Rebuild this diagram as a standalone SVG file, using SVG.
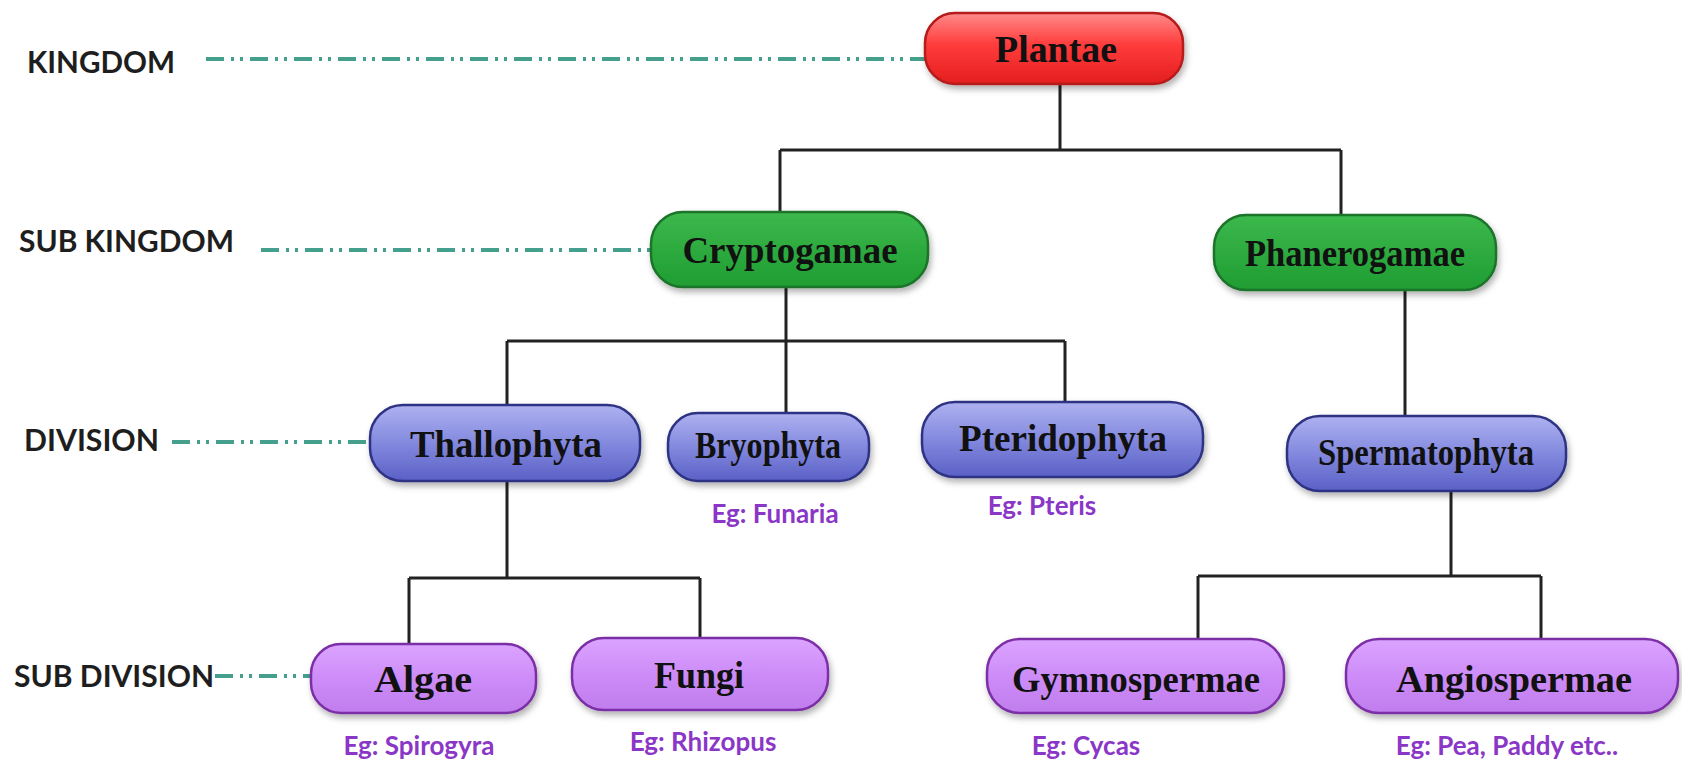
<svg xmlns="http://www.w3.org/2000/svg" width="1682" height="765" viewBox="0 0 1682 765">
<defs>
<linearGradient id="gRed" x1="0" y1="0" x2="0" y2="1"><stop offset="0" stop-color="#ff8a8a"/><stop offset="0.45" stop-color="#ff3b3b"/><stop offset="1" stop-color="#e41e1e"/></linearGradient>
<linearGradient id="gGreen" x1="0" y1="0" x2="0" y2="1"><stop offset="0" stop-color="#3cb84c"/><stop offset="1" stop-color="#1f9d32"/></linearGradient>
<linearGradient id="gBlue" x1="0" y1="0" x2="0" y2="1"><stop offset="0" stop-color="#aeb1f0"/><stop offset="0.5" stop-color="#8389de"/><stop offset="1" stop-color="#5a60c6"/></linearGradient>
<linearGradient id="gPurple" x1="0" y1="0" x2="0" y2="1"><stop offset="0" stop-color="#dba4ff"/><stop offset="0.5" stop-color="#cd8cf8"/><stop offset="1" stop-color="#c07ded"/></linearGradient>
<filter id="sh" x="-10%" y="-20%" width="130%" height="150%"><feDropShadow dx="2" dy="4" stdDeviation="3" flood-color="#000" flood-opacity="0.3"/></filter>
<style>
.lvl{font-family:Lato,"Open Sans","Liberation Sans",sans-serif;font-weight:700;font-size:30px;fill:#1e1e1e}
.nt{font-family:"Liberation Serif","DejaVu Serif",serif;font-weight:700;font-size:38px;fill:#111;text-anchor:middle}
.eg{font-family:Lato,"Open Sans","Liberation Sans",sans-serif;font-weight:700;font-size:26px;fill:#8a36c6;text-anchor:middle}
.dd{stroke:#44a08c;stroke-width:4;fill:none;stroke-dasharray:18 7 3 6 3 7}
.cn{stroke:#222;stroke-width:3;fill:none}
.red{fill:url(#gRed);stroke:#b51a1a;stroke-width:2.5;filter:url(#sh)}
.grn{fill:url(#gGreen);stroke:#1b7329;stroke-width:2.5;filter:url(#sh)}
.blu{fill:url(#gBlue);stroke:#2e3382;stroke-width:2.5;filter:url(#sh)}
.pur{fill:url(#gPurple);stroke:#7b2fa6;stroke-width:2.5;filter:url(#sh)}
</style>
</defs>
<rect width="1682" height="765" fill="#fff"/>

<g id="levels">
<text class="lvl" x="27" y="73" textLength="148" lengthAdjust="spacingAndGlyphs">KINGDOM</text>
<text class="lvl" x="19" y="252" textLength="215" lengthAdjust="spacingAndGlyphs">SUB KINGDOM</text>
<text class="lvl" x="24" y="451" textLength="135" lengthAdjust="spacingAndGlyphs">DIVISION</text>
<text class="lvl" x="14" y="687" textLength="200" lengthAdjust="spacingAndGlyphs">SUB DIVISION</text>
</g>

<g id="connectors">
<line class="dd" x1="206" y1="59" x2="925" y2="59"/>
<line class="dd" x1="261" y1="250" x2="651" y2="250"/>
<line class="dd" x1="172" y1="442" x2="370" y2="442"/>
<line class="dd" x1="215" y1="676" x2="311" y2="676"/>
<path class="cn" d="M1060 84 V150 M780 150 H1341 M780 150 V212 M1341 150 V215"/>
<path class="cn" d="M786 287 V341 M507 341 H1065 M507 341 V405 M786 341 V413 M1065 341 V402"/>
<path class="cn" d="M1405 290 V416"/>
<path class="cn" d="M507 481 V578 M409 578 H700 M409 578 V644 M700 578 V638"/>
<path class="cn" d="M1451 491 V576 M1198 576 H1541 M1198 576 V639 M1541 576 V639"/>
</g>

<g id="plantae"><rect class="red" x="925" y="13" width="258" height="71" rx="30"/><text class="nt" x="1056" y="62" textLength="122" lengthAdjust="spacingAndGlyphs">Plantae</text></g>
<g id="cryptogamae"><rect class="grn" x="651" y="212" width="277" height="75" rx="32"/><text class="nt" x="790" y="263" textLength="215" lengthAdjust="spacingAndGlyphs">Cryptogamae</text></g>
<g id="phanerogamae"><rect class="grn" x="1214" y="215" width="282" height="75" rx="32"/><text class="nt" x="1355" y="266" textLength="220" lengthAdjust="spacingAndGlyphs">Phanerogamae</text></g>
<g id="thallophyta"><rect class="blu" x="370" y="405" width="270" height="76" rx="33"/><text class="nt" x="506" y="457" textLength="192" lengthAdjust="spacingAndGlyphs">Thallophyta</text></g>
<g id="bryophyta"><rect class="blu" x="668" y="413" width="201" height="68" rx="30"/><text class="nt" x="768" y="458" textLength="146" lengthAdjust="spacingAndGlyphs">Bryophyta</text></g>
<g id="pteridophyta"><rect class="blu" x="922" y="402" width="281" height="75" rx="33"/><text class="nt" x="1063" y="451" textLength="208" lengthAdjust="spacingAndGlyphs">Pteridophyta</text></g>
<g id="spermatophyta"><rect class="blu" x="1287" y="416" width="279" height="75" rx="33"/><text class="nt" x="1426" y="465" textLength="216" lengthAdjust="spacingAndGlyphs">Spermatophyta</text></g>
<g id="algae"><rect class="pur" x="311" y="644" width="225" height="69" rx="30"/><text class="nt" x="423" y="692" textLength="98" lengthAdjust="spacingAndGlyphs">Algae</text></g>
<g id="fungi"><rect class="pur" x="572" y="638" width="256" height="72" rx="32"/><text class="nt" x="699" y="688" textLength="90" lengthAdjust="spacingAndGlyphs">Fungi</text></g>
<g id="gymnospermae"><rect class="pur" x="987" y="639" width="297" height="74" rx="33"/><text class="nt" x="1136" y="692" textLength="248" lengthAdjust="spacingAndGlyphs">Gymnospermae</text></g>
<g id="angiospermae"><rect class="pur" x="1346" y="639" width="332" height="74" rx="33"/><text class="nt" x="1514" y="692" textLength="236" lengthAdjust="spacingAndGlyphs">Angiospermae</text></g>

<g id="examples">
<text class="eg" x="775" y="523">Eg: Funaria</text>
<text class="eg" x="1042" y="515">Eg: Pteris</text>
<text class="eg" x="419" y="755">Eg: Spirogyra</text>
<text class="eg" x="703" y="751">Eg: Rhizopus</text>
<text class="eg" x="1086" y="755">Eg: Cycas</text>
<text class="eg" x="1507" y="755">Eg: Pea, Paddy etc..</text>
</g>
</svg>
